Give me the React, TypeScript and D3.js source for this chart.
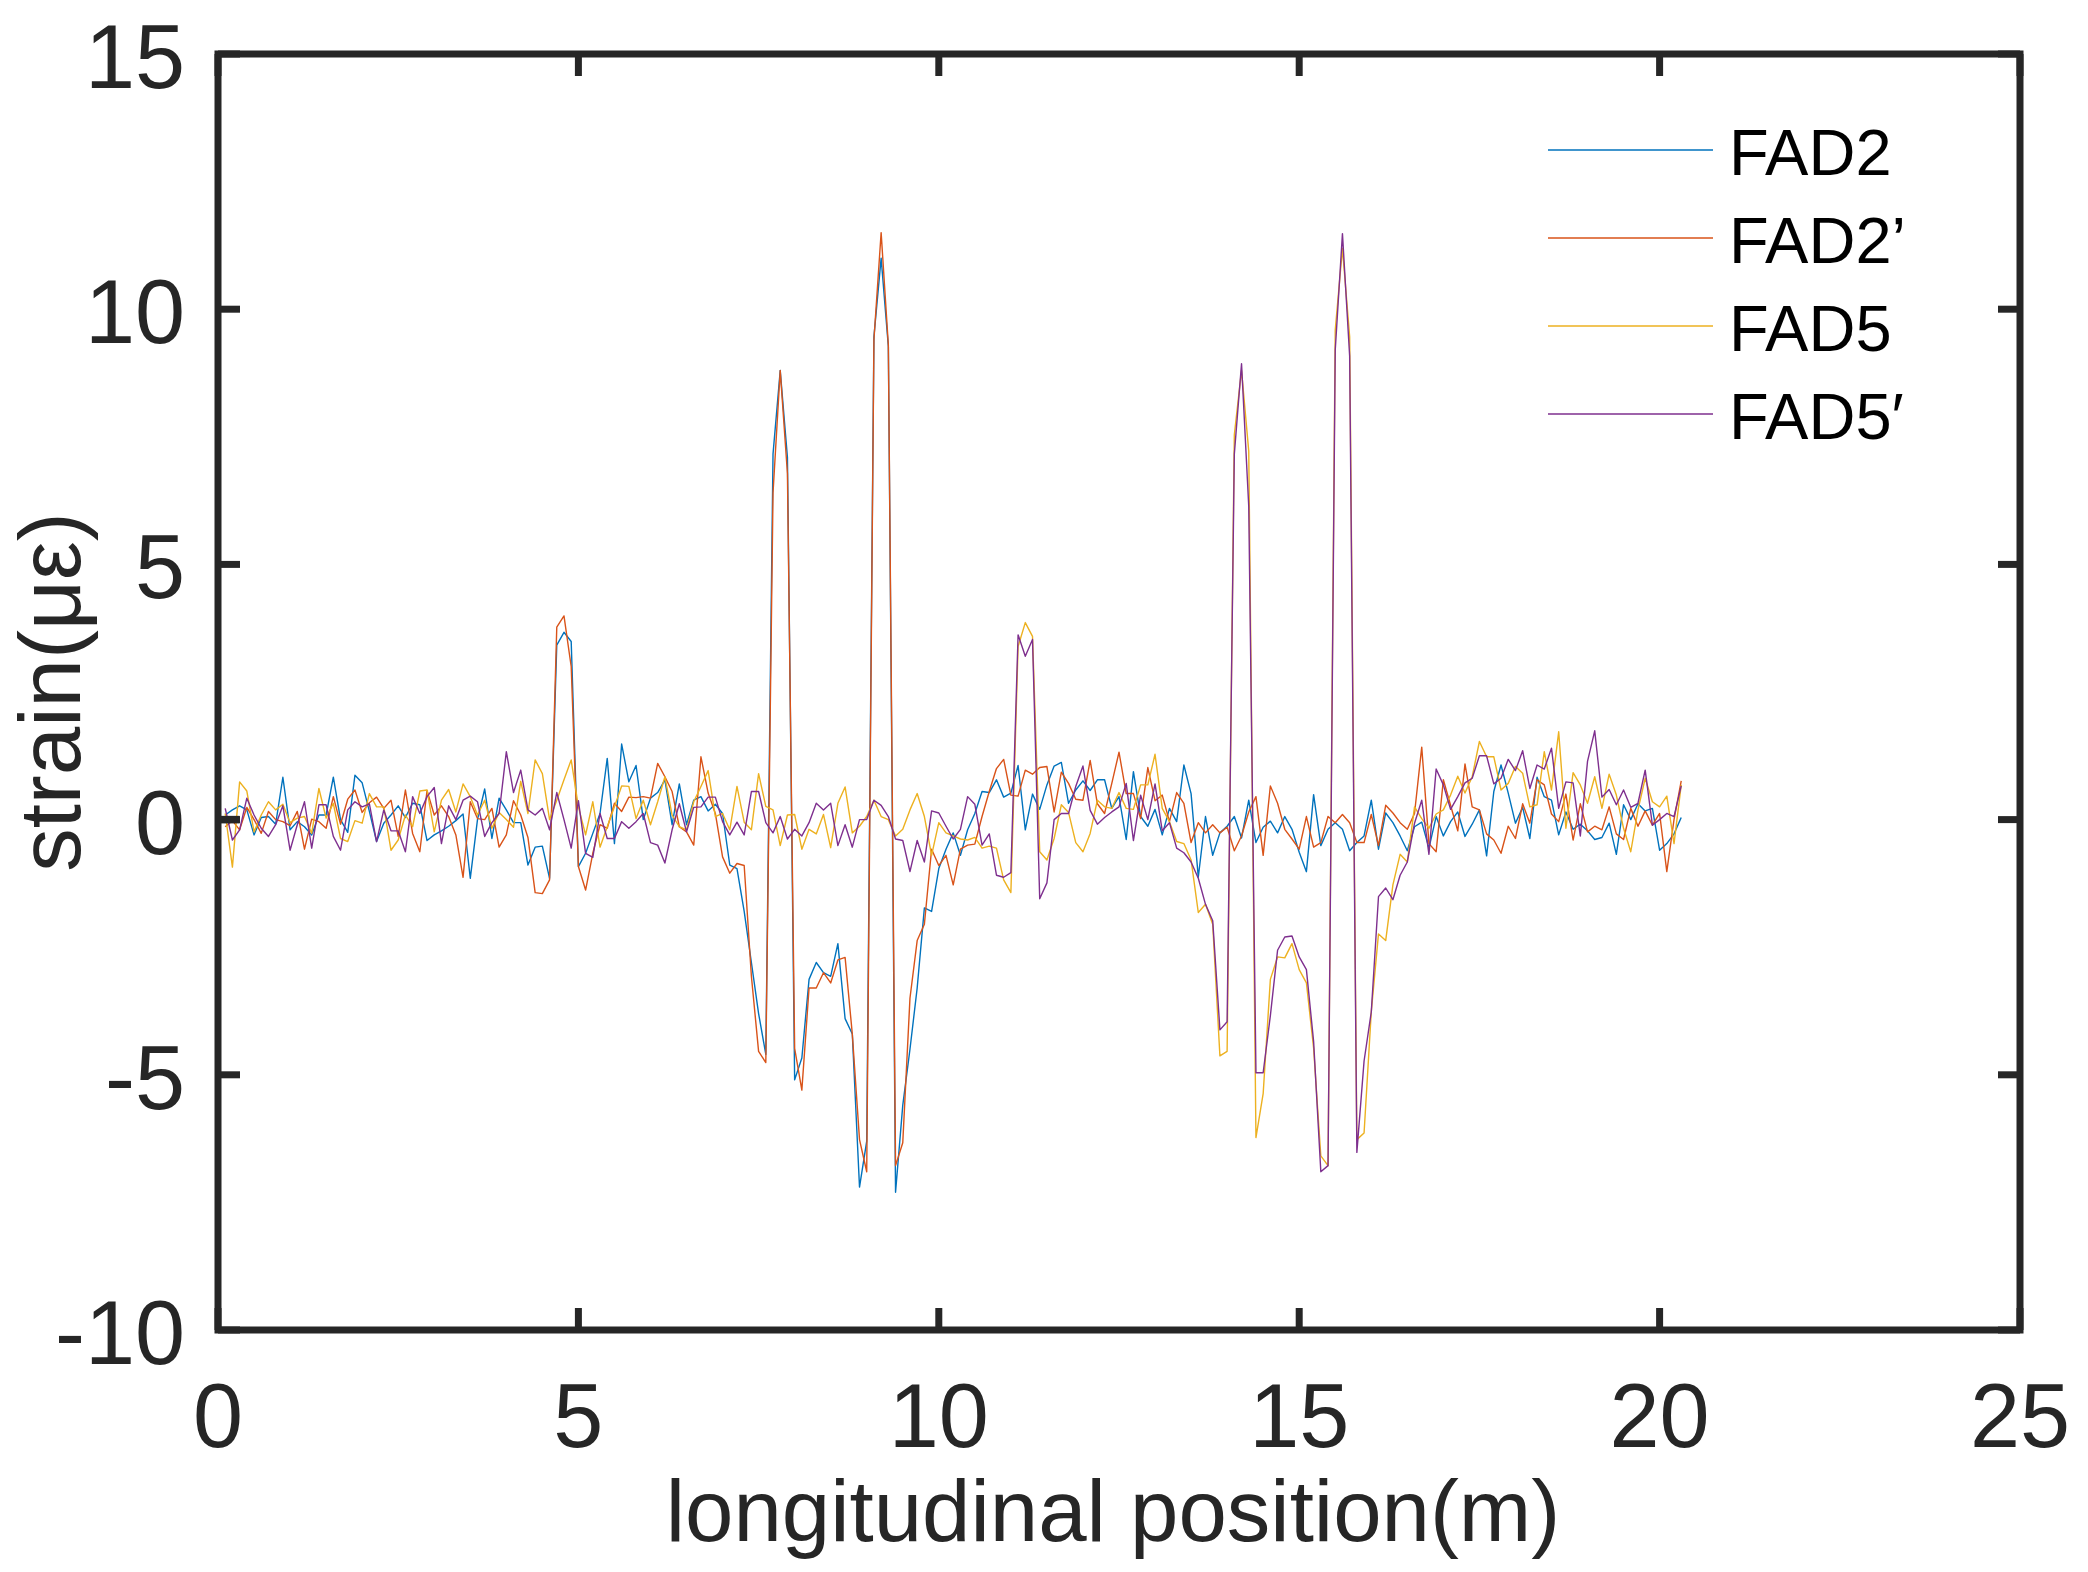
import React from "react";
import * as d3 from "d3";

// canvas
const WIDTH = 2088;
const HEIGHT = 1572;
const margin = { top: 54, right: 68, bottom: 242, left: 218 };

// axes
const xTicks = [0, 5, 10, 15, 20, 25];
const yTicks = [-10, -5, 0, 5, 10, 15];
const xLabel = "longitudinal position(m)";
const yLabel = "strain(με)";

// series
const seriesNames = ["FAD2", "FAD2’", "FAD5", "FAD5\u2032"];
const colors = ["#0072BD", "#D95319", "#EDB120", "#7E2F8E"];

// sampling step along the beam (m), first sample at 0.1 m
const STEP = 0.1;

const fad2 = [
  0.09, 0.19, 0.27, 0.19, -0.3, 0.04, 0.06, -0.09, 0.83, -0.2, -0.04, -0.14, -0.3, 0.09, 0.09, 0.83, 0, -0.25, 0.87, 0.72,
  0.16, -0.43, -0.07, 0.09, 0.27, 0.04, 0.32, 0.29, -0.41, -0.3, -0.22, -0.13, -0.02, 0.11, -1.15, 0, 0.6, -0.37, 0.42, 0.19,
  -0.06, -0.06, -0.89, -0.54,
  -0.52, -1.15, 3.42, 3.67, 3.49, -0.92, -0.66, -0.27, 0.12, 1.2, -0.47, 1.48, 0.74, 1.06, 0, 0.42, 0.53, 0.78, -0.1, 0.7,
  -0.1, 0.38, 0.45, 0.17, 0.3, 0.12, -0.89,
  -0.96, -1.8, -2.8, -3.8, -4.6, 7.16, 8.8, 7.1, -5.1, -4.67, -3.13, -2.8, -3.0, -3.07, -2.43, -3.9, -4.2, -7.2, -6.3, 9.46,
  11.0, 9.27, -7.3, -5.6, -4.5, -3.3, -1.73, -1.8, -0.96, -0.58, -0.26, -0.7,
  -0.2, 0.12, 0.55, 0.53, 0.78, 0.44, 0.52, 1.06, -0.2, 0.5, 0.2, 0.68, 1.05, 1.12, 0.32, 0.58, 0.76, 0.57, 0.78, 0.78,
  0.22, 0.45, -0.39, 0.94, 0.06, -0.13, 0.2, -0.3, 0.22, -0.04, 1.07,
  0.51, -1.13, 0.06, -0.7, -0.26, -0.13, 0.06, -0.36, 0.38, -0.45, -0.15, -0.03, -0.26, 0.06, -0.19, -0.64, -1.02, 0.49,
  -0.51, -0.19, -0.06, -0.19, -0.61, -0.45, -0.32, 0.38, -0.58, 0.13, -0.06, -0.32, -0.61,
  -0.14, -0.05, -0.56, 0.06, -0.32, -0.04, 0.15, -0.33, -0.09, 0.19, -0.71, 0.55, 1.07, 0.52, -0.07, 0.24, -0.37, 0.83,
  0.45, 0.38, -0.3, 0.15, -0.19, -0.09, -0.22, -0.39, -0.35, -0.07, -0.68, 0.29, 0, 0.31, 0.17, 0.22, -0.6, -0.47, -0.28, 0.04,
];

const fad2p = [
  -0.14, -0.02, -0.2, 0.24, 0, -0.27, 0.16, 0, -0.04, -0.12, 0.16, -0.58, 0.01, -0.04, -0.17, 0.45, -0.09, 0.4, 0.58, 0.14,
  0.33, 0.44, 0.22, 0.38, -0.33, 0.58, -0.27, -0.63, 0.57, 0.09, 0.27, 0.06, -0.3, -1.13, 0.35, 0.02, 0, 0.22, -0.54, -0.3,
  0.37, 0.09, -0.35, -1.43,
  -1.45, -1.18, 3.77, 3.99, 3.0, -0.92, -1.38, -0.66, -0.1, -0.17, 0.32, 0.16, 0.44, 0.43, 0.45, 0.42, 1.1, 0.84, 0.55,
  -0.14, -0.24, -0.5, 1.23, 0.52, 0.12, -0.73, -1.05,
  -0.86, -0.9, -3.07, -4.54, -4.76, 6.4, 8.8, 6.78, -4.48, -5.3, -3.3, -3.3, -3.0, -3.2, -2.75, -2.7, -4.2, -6.27, -6.9,
  9.4, 11.5, 9.3, -6.78, -6.33, -3.5, -2.37, -2.05, -0.58, -0.9, -0.7, -1.28, -0.58,
  -0.5, -0.48, 0.06, 0.55, 1.0, 1.18, 0.48, 0.46, 0.97, 0.89, 1.02, 1.04, 0.15, 0.93, 0.71, 0.4, 0.38, 1.16, 0.31, 0.12,
  0.71, 1.32, 0.51, 0.51, 0.02, 1.02, 0.37, 0.48, -0.04, 0.53, 0.32,
  -0.45, -0.06, -0.26, -0.1, -0.26, -0.15, -0.61, -0.32, 0.15, 0.45, -0.7, 0.66, 0.32, -0.19, -0.38, -0.58, 0.06, -0.54,
  -0.45, 0.06, -0.06, 0.1, -0.06, -0.45, -0.45, 0.1, -0.51, 0.28, 0.13, -0.06, -0.19,
  0.12, 1.42, -0.47, -0.63, 0.78, 0.28, -0.22, 1.09, 0.25, 0.19, -0.28, -0.4, -0.66, -0.13, -0.37, 0.31, -0.07, 0.78, 0.68,
  0.11, -0.04, 0.5, -0.4, 0.31, -0.24, -0.13, -0.2, 0.25, -0.28, -0.39, 0.22, -0.13, 0.17, -0.11, 0.12, -1.02, 0, 0.76,
];

const fad5 = [
  0.12, -0.93, 0.74, 0.56, -0.24, 0.09, 0.35, 0.19, 0.3, -0.06, 0.03, 0.06, -0.27, 0.61, 0.03, 0.32, -0.37, -0.43, -0.02,
  -0.07, 0.51, 0.25, 0.25, -0.6, -0.4, 0.09, -0.14, 0.56, 0.58, -0.24, 0.38, 0.59, 0.15, 0.7, 0.45, 0.09, 0.38, -0.17, 0.14,
  0, -0.15, 0.75, 0.12, 1.17,
  0.9, 0, 0.38, 0.78, 1.17, 0.25, -0.3, 0.35, -0.54, -0.14, 0.25, 0.66, 0.65, 0.02, 0.38, -0.1, 0.35, 0.84, 0.09, -0.14,
  -0.2, 0.35, 0.65, 0.96, 0.06, 0.12, -0.2,
  0.65, -0.05, -0.2, 0.9, 0.26, 0.19, -0.51, 0.09, 0.1, -0.58, -0.19, -0.28, 0.1, -0.55, 0.32, 0.64, -0.26, -0.13, 0.06,
  0.38, 0.06, 0, -0.32, -0.19, 0.19, 0.51, 0.06, -0.7, -0.06, -0.26, -0.32, -0.38,
  -0.4, -0.35, -0.56, -0.52, -0.56, -1.18, -1.43, 3.39, 3.86, 3.59, -0.63, -0.79, -0.37, 0.29, 0.14, -0.45, -0.63, -0.27,
  0.38, 0.25, 0.22, 0.53, 0.22, 0.2, 0.68, 0.68, 1.28, 0.22, -0.04, -0.43, -0.47,
  -0.79, -1.82, -1.66, -2.05, -4.63, -4.54, 7.54, 8.8, 7.22, -6.23, -5.37, -3.13, -2.69, -2.71, -2.43, -2.94, -3.2, -4.48,
  -6.59, -6.78, 9.59, 11.19, 9.46, -6.27, -6.14, -3.77, -2.24, -2.37, -1.28, -0.68, -0.83,
  0.25, 0.02, -0.17, 0.11, 0.19, 0.48, 0.85, 0.52, 0.84, 1.53, 1.23, 1.23, 0.58, 0.71, 1.04, 0.91, 0.25, 0.29, 1.33, 0.58,
  1.72, -0.17, 0.92, 0.68, 0.32, 0.84, 0.22, 0.89, 0.48, -0.17, -0.63, 0.19, 0.81, 0.35, 0.25, 0.46, -0.47, 0.68,
];

const fad5p = [
  0.22, -0.4, -0.2, 0.42, 0.09, -0.17, -0.33, -0.1, 0.27, -0.6, -0.1, 0.35, -0.56, 0.29, 0.29, -0.33, -0.6, 0.19, 0.35,
  0.25, 0.31, -0.43, 0.19, -0.22, -0.22, -0.63, 0.45, 0.12, 0.45, 0.63, -0.47, 0.27, 0, 0.38, 0.46, 0.35, -0.33, -0.06,
  0.12, 1.33, 0.53, 0.97, 0.19, 0.09,
  0.22, -0.2, 0.53, 0, -0.56, 0.37, -0.66, -0.74, 0.12, -0.37, -0.37, -0.04, -0.17, -0.04, 0.12, -0.45, -0.5, -0.85, -0.2,
  0.31, -0.24, 0.24, 0.25, 0.44, 0.44, -0.04, -0.3,
  -0.05, -0.3, 0.55, 0.55, -0.06, -0.26, 0.06, -0.38, -0.19, -0.32, -0.06, 0.32, 0.19, 0.32, -0.51, -0.1, -0.54, 0, 0,
  0.38, 0.28, 0.06, -0.38, -0.41, -1.02, -0.41, -0.83, 0.17, 0.13, -0.13, -0.38, -0.19,
  0.45, 0.3, -0.5, -0.28, -1.09, -1.13, -1.04, 3.62, 3.2, 3.53, -1.55, -1.24, 0, 0.12, 0.12, 0.65, 1.05, 0.18, -0.09, 0.04,
  0.15, 0.25, 0.71, -0.41, 0.48, 0, 0.7, -0.22, -0.06, -0.56, -0.65,
  -0.83, -1.15, -1.66, -1.98, -4.12, -3.96, 7.16, 8.93, 6.14, -4.96, -4.96, -3.84, -2.56, -2.3, -2.28, -2.69, -2.94,
  -4.35, -6.9, -6.78, 9.2, 11.48, 9.08, -6.52, -4.73, -3.77, -1.51, -1.34, -1.57, -1.09, -0.83,
  -0.07, 0.38, -0.68, 0.99, 0.68, 0.2, 0.45, 0.72, 0.81, 1.25, 1.25, 0.7, 0.81, 1.18, 0.96, 1.35, 0.61, 1.07, 0.99, 1.4,
  0.22, 0.74, 0.72, -0.32, 1.14, 1.74, 0.44, 0.59, 0.29, 0.58, 0.24, 0.32, 0.97, -0.11, 0, 0.12, 0.06, 0.66,
];

// short black reference mark drawn at the origin
const refMarkX = [0, 0.3];
const refMarkY = [0, 0];

const allSeries = [fad2, fad2p, fad5, fad5p];

const FONT = "'Liberation Sans', Arial, Helvetica, sans-serif";
const AXIS_COLOR = "#262626";

const App: React.FC = () => {
  const innerW = WIDTH - margin.left - margin.right;
  const innerH = HEIGHT - margin.top - margin.bottom;
  const x0 = margin.left;
  const x1 = margin.left + innerW;
  const y0 = margin.top;
  const y1 = margin.top + innerH;

  const xScale = d3.scaleLinear().domain([0, 25]).range([x0, x1]);
  const yScale = d3.scaleLinear().domain([-10, 15]).range([y1, y0]);

  const positions = fad2.map((_, i) => +((i + 1) * STEP).toFixed(1));

  const line = d3
    .line<number>()
    .x((_, i) => xScale(positions[i]))
    .y((d) => yScale(d));

  const refLine = d3
    .line<number>()
    .x((d) => xScale(d))
    .y((_, i) => yScale(refMarkY[i]));

  const tickLen = 22;
  const legendX = 1548;
  const legendLineLen = 165;
  const legendTop = 150;
  const legendGap = 88;

  return (
    <svg
      width={WIDTH}
      height={HEIGHT}
      style={{ position: "absolute", left: 0, top: 0, background: "#fff" }}
      fontFamily={FONT}
    >
      <rect x={0} y={0} width={WIDTH} height={HEIGHT} fill="#fff" />

      {/* data */}
      <g fill="none" strokeWidth={1.4} strokeLinejoin="round">
        {allSeries.map((s, k) => (
          <path key={k} d={line(s) || ""} stroke={colors[k]} />
        ))}
      </g>
      <path d={refLine(refMarkX) || ""} stroke={AXIS_COLOR} strokeWidth={7.5} fill="none" />

      {/* box + ticks */}
      <g stroke={AXIS_COLOR} strokeWidth={7}>
        {xTicks.map((t) => (
          <g key={"xt" + t}>
            <line x1={xScale(t)} x2={xScale(t)} y1={y1} y2={y1 - tickLen} />
            <line x1={xScale(t)} x2={xScale(t)} y1={y0} y2={y0 + tickLen} />
          </g>
        ))}
        {yTicks.map((t) => (
          <g key={"yt" + t}>
            <line x1={x0} x2={x0 + tickLen} y1={yScale(t)} y2={yScale(t)} />
            <line x1={x1} x2={x1 - tickLen} y1={yScale(t)} y2={yScale(t)} />
          </g>
        ))}
        <rect x={x0} y={y0} width={innerW} height={innerH} fill="none" />
      </g>

      {/* tick labels */}
      <g fill={AXIS_COLOR} fontSize={90}>
        {xTicks.map((t) => (
          <text key={"xl" + t} x={xScale(t)} y={y1 + 117} textAnchor="middle">
            {t}
          </text>
        ))}
        {yTicks.map((t) => (
          <text key={"yl" + t} x={x0 - 33} y={yScale(t) + 34} textAnchor="end">
            {t}
          </text>
        ))}
      </g>

      {/* axis titles */}
      <text x={(x0 + x1) / 2 - 6} y={1541} textAnchor="middle" fontSize={87} fill={AXIS_COLOR}>
        {xLabel}
      </text>
      <text
        transform={`translate(80, ${(y0 + y1) / 2}) rotate(-90)`}
        textAnchor="middle"
        fontSize={87}
        fill={AXIS_COLOR}
      >
        {yLabel}
      </text>

      {/* legend */}
      <g>
        {seriesNames.map((name, k) => {
          const ly = legendTop + k * legendGap;
          return (
            <g key={name}>
              <line
                x1={legendX}
                x2={legendX + legendLineLen}
                y1={ly}
                y2={ly}
                stroke={colors[k]}
                strokeWidth={1.4}
              />
              <text x={legendX + legendLineLen + 16} y={ly + 25} fontSize={65} fill="#000">
                {name}
              </text>
            </g>
          );
        })}
      </g>
    </svg>
  );
};

export default App;
